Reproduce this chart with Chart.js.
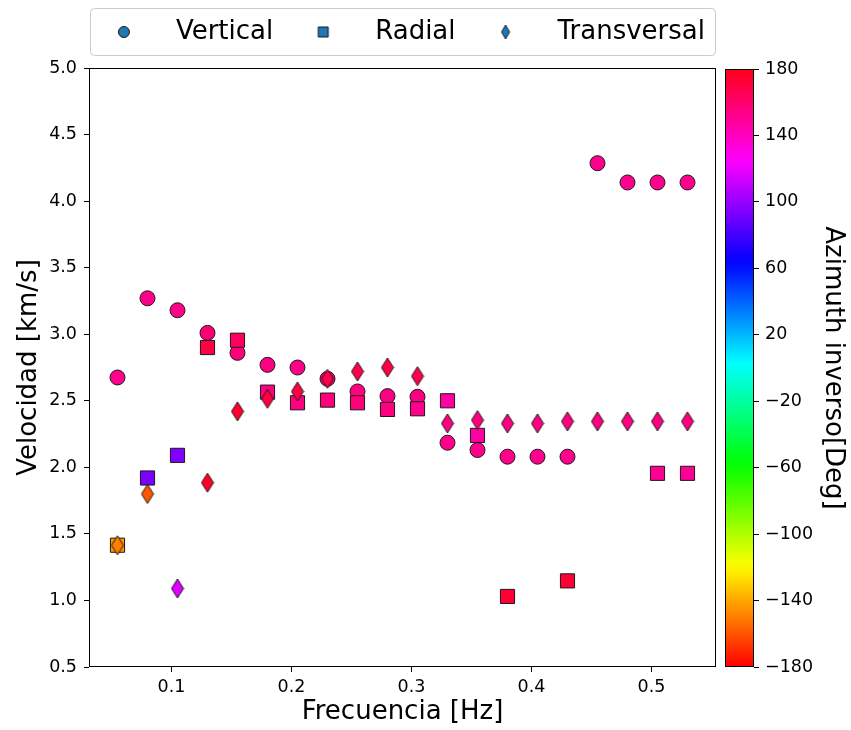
<!DOCTYPE html>
<html>
<head>
<meta charset="utf-8">
<script src="https://cdn.jsdelivr.net/npm/chart.js@4.4.0/dist/chart.umd.min.js"></script>
<style>
  html, body { margin: 0; padding: 0; background: #fff; }
  #wrap { position: relative; width: 851px; height: 730px; }
  #main { position: absolute; left: 0; top: 0; }
  #cbar { position: absolute; left: 718px; top: 0; }
</style>
</head>
<body>
<div id="wrap">
  <canvas id="main" width="851" height="730"></canvas>
  <canvas id="cbar" width="133" height="730"></canvas>
</div>
<script>
// frequencies shared by the Vertical and Transversal series
const freqs = [0.055, 0.08, 0.105, 0.13, 0.155, 0.18, 0.205, 0.23, 0.255, 0.28,
  0.305, 0.33, 0.355, 0.38, 0.405, 0.43, 0.455, 0.48, 0.505, 0.53]

const verticalVel = [2.675, 3.27, 3.18, 3.01, 2.86, 2.77, 2.75, 2.665, 2.57, 2.535,
  2.53, 2.185, 2.13, 2.08, 2.08, 2.08, 4.285, 4.14, 4.14, 4.14]
const verticalAz = [152, 153, 153, 158, 157, 154, 153, 160, 155, 155,
  155, 152, 152, 152, 152, 152, 152, 152, 152, 152]

const radialFreqs = [0.055, 0.08, 0.105, 0.13, 0.155, 0.18, 0.205, 0.23, 0.255, 0.28,
  0.305, 0.33, 0.355, 0.38, 0.43, 0.505, 0.53]
const radialVel = [1.415, 1.92, 2.09, 2.90, 2.955, 2.565, 2.485, 2.505, 2.485, 2.435,
  2.44, 2.50, 2.24, 1.03, 1.147, 1.955, 1.955]
const radialAz = [-143, 93, 95, 170, 163, 155, 155, 157, 157, 155,
  152, 147, 147, 173, 173, 150, 150]

const transVel = [1.415, 1.80, 1.09, 1.885, 2.42, 2.515, 2.57, 2.665, 2.72, 2.75,
  2.685, 2.33, 2.355, 2.33, 2.33, 2.345, 2.345, 2.345, 2.345, 2.345]
const transAz = [-150, -160, 117, 176, 174, 170, 170, 168, 168, 168,
  168, 155, 155, 155, 155, 155, 155, 155, 155, 155]

const seriesNames = ['Vertical', 'Radial', 'Transversal']
const azMin = -180
const azMax = 180

Chart.defaults.font.family = "'DejaVu Sans', sans-serif"
Chart.defaults.color = '#000'

// matplotlib 'hsv' colormap segments
const hsvR = [[0, 1], [0.158730, 1], [0.174603, 0.96875], [0.333333, 0.03125], [0.349206, 0],
  [0.666667, 0], [0.682540, 0.03125], [0.841270, 0.96875], [0.857143, 1], [1, 1]]
const hsvG = [[0, 0], [0.158730, 0.9375], [0.174603, 1], [0.507937, 1], [0.666667, 0.0625],
  [0.682540, 0], [1, 0]]
const hsvB = [[0, 0], [0.333333, 0], [0.349206, 0.0625], [0.507937, 1], [0.841270, 1],
  [0.857143, 0.9375], [1, 0.09375]]

function interp(seg, t) {
  for (let i = 1; i < seg.length; i++) {
    if (t <= seg[i][0]) {
      const [t0, v0] = seg[i - 1]
      const [t1, v1] = seg[i]
      return v0 + (v1 - v0) * (t - t0) / (t1 - t0)
    }
  }
  return seg[seg.length - 1][1]
}

function hsvColor(az) {
  const t = Math.min(1, Math.max(0, (az - azMin) / (azMax - azMin)))
  const c = [hsvR, hsvG, hsvB].map(s => Math.round(255 * interp(s, t)))
  return `rgb(${c[0]},${c[1]},${c[2]})`
}

// thin diamond marker ('d' in matplotlib)
function diamond(color, w, h) {
  const c = document.createElement('canvas')
  c.width = w + 2
  c.height = h + 2
  const g = c.getContext('2d')
  g.beginPath()
  g.moveTo(c.width / 2, 1)
  g.lineTo(c.width - 1, c.height / 2)
  g.lineTo(c.width / 2, c.height - 1)
  g.lineTo(1, c.height / 2)
  g.closePath()
  g.fillStyle = color
  g.fill()
  g.lineWidth = 1
  g.strokeStyle = '#1a1a1a'
  g.stroke()
  return c
}

function legendMark(kind) {
  const c = document.createElement('canvas')
  c.width = 16
  c.height = 16
  const g = c.getContext('2d')
  g.beginPath()
  if (kind === 'circle') g.arc(8, 8, 5.5, 0, Math.PI * 2)
  else if (kind === 'rect') g.rect(3, 3, 10, 10)
  else { g.moveTo(8, 1); g.lineTo(12, 8); g.lineTo(8, 15); g.lineTo(4, 8); g.closePath() }
  g.fillStyle = '#1f77b4'
  g.fill()
  g.lineWidth = 1
  g.strokeStyle = '#1a1a1a'
  g.stroke()
  return c
}

const legendMarks = [legendMark('circle'), legendMark('rect'), legendMark('diamond')]
const toPoints = (xs, ys) => xs.map((x, i) => ({ x, y: ys[i] }))

// keep the legend on one row and push the plot area down below its frame
const legendMargin = {
  id: 'legendMargin',
  beforeInit(chart) {
    const fit = chart.legend.fit
    chart.legend.fit = function () {
      const mw = this.maxWidth
      this.maxWidth = mw + 60
      fit.call(this)
      this.maxWidth = mw
      this.width = mw
      this.height += 13
    }
  }
}

const framePlugin = {
  id: 'frame',
  afterDraw(chart) {
    const { ctx, chartArea: a, legend } = chart
    ctx.save()
    ctx.lineWidth = 1
    ctx.strokeStyle = '#000'
    ctx.strokeRect(a.left + 0.5, a.top + 0.5, a.right - a.left - 1, a.bottom - a.top - 1)
    ctx.strokeStyle = '#cccccc'
    ctx.beginPath()
    const lh = legend.height - 13
    if (ctx.roundRect) ctx.roundRect(a.left + 1.5, legend.top + 0.5, a.right - a.left - 2, lh, 4)
    else ctx.rect(a.left + 1.5, legend.top + 0.5, a.right - a.left - 2, lh)
    ctx.stroke()
    ctx.restore()
  }
}

const tickFont = { size: 17.5 }
const titleFont = { size: 26 }

new Chart(document.getElementById('main'), {
  type: 'scatter',
  data: {
    datasets: [
      {
        label: seriesNames[0],
        data: toPoints(freqs, verticalVel),
        pointStyle: 'circle',
        pointRadius: 7.5,
        pointBackgroundColor: verticalAz.map(hsvColor),
        pointBorderColor: '#1a1a1a',
        pointBorderWidth: 1,
        order: 3,
      },
      {
        label: seriesNames[1],
        data: toPoints(radialFreqs, radialVel),
        pointStyle: 'rect',
        pointRadius: 10,
        pointBackgroundColor: radialAz.map(hsvColor),
        pointBorderColor: '#1a1a1a',
        pointBorderWidth: 1,
        order: 2,
      },
      {
        label: seriesNames[2],
        data: toPoints(freqs, transVel),
        pointStyle: transAz.map(a => diamond(hsvColor(a), 12, 19)),
        pointRadius: 9,
        order: 1,
      },
    ],
  },
  options: {
    responsive: false,
    animation: false,
    devicePixelRatio: 1,
    layout: { padding: { top: 8, right: 135, bottom: 0, left: 0 } },
    plugins: {
      tooltip: { enabled: false },
      legend: {
        position: 'top',
        align: 'end',
        fullSize: false,
        labels: {
          usePointStyle: true,
          pointStyleWidth: 78,
          boxHeight: 10,
          padding: 11,
          font: titleFont,
          generateLabels: () => seriesNames.map((text, i) => ({
            text,
            pointStyle: legendMarks[i],
            fillStyle: '#1f77b4',
            strokeStyle: '#1a1a1a',
            fontColor: '#000',
            lineWidth: 1,
            hidden: false,
            datasetIndex: i,
          })),
        },
      },
    },
    scales: {
      x: {
        type: 'linear',
        min: 0.03125,
        max: 0.55375,
        ticks: { stepSize: 0.1, includeBounds: false, padding: 5, font: tickFont, callback: v => v.toFixed(1) },
        grid: { drawOnChartArea: false, drawTicks: true, tickLength: 5, color: '#000' },
        border: { display: false },
        title: { display: true, text: 'Frecuencia [Hz]', font: titleFont, padding: { top: 0, bottom: 2 } },
        afterFit: s => { s.height = 63 },
      },
      y: {
        min: 0.5,
        max: 5,
        ticks: { stepSize: 0.5, padding: 7, font: tickFont, callback: v => v.toFixed(1) },
        grid: { drawOnChartArea: false, drawTicks: true, tickLength: 5, color: '#000' },
        border: { display: false },
        title: { display: true, text: 'Velocidad [km/s]', font: titleFont, padding: { top: 14, bottom: 0 } },
        afterFit: s => { s.width = 89 },
      },
    },
  },
  plugins: [legendMargin, framePlugin],
})

// colorbar: gradient filled into the plot area of a second chart
const gradientPlugin = {
  id: 'cbarFill',
  beforeDatasetsDraw(chart) {
    const { ctx, chartArea: a } = chart
    const grad = ctx.createLinearGradient(0, a.bottom, 0, a.top)
    for (let i = 0; i <= 128; i++) {
      const t = i / 128
      grad.addColorStop(t, hsvColor(azMin + t * (azMax - azMin)))
    }
    ctx.save()
    ctx.fillStyle = grad
    ctx.fillRect(a.left, a.top, a.right - a.left, a.bottom - a.top)
    ctx.lineWidth = 1
    ctx.strokeStyle = '#000'
    ctx.strokeRect(a.left + 0.5, a.top + 0.5, a.right - a.left - 1, a.bottom - a.top - 1)
    ctx.restore()
  }
}

new Chart(document.getElementById('cbar'), {
  type: 'scatter',
  data: { datasets: [] },
  options: {
    responsive: false,
    animation: false,
    devicePixelRatio: 1,
    layout: { padding: { top: 69, right: 0, bottom: 63, left: 7 } },
    plugins: { legend: { display: false }, tooltip: { enabled: false } },
    scales: {
      x: { display: false },
      y: {
        position: 'right',
        min: azMin,
        max: azMax,
        ticks: {
          stepSize: 40,
          padding: 6,
          font: tickFont,
          callback: v => (v < 0 ? '\u2212' + Math.abs(v) : String(v)),
        },
        grid: { drawOnChartArea: false, drawTicks: true, tickLength: 5, color: '#000' },
        border: { display: false },
        title: { display: true, text: 'Azimuth inverso[Deg]', font: titleFont, padding: { top: 3, bottom: 0 } },
        afterFit: s => { s.width = 97 },
      },
    },
  },
  plugins: [gradientPlugin],
})
</script>
</body>
</html>
